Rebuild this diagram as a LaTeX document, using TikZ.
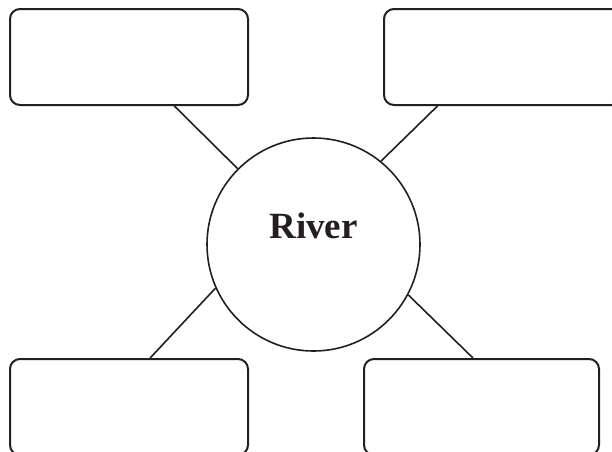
\documentclass[tikz,border=0pt]{standalone}
\usepackage{fontspec}
\setmainfont{Liberation Serif}
\usetikzlibrary{calc}
\definecolor{ink}{HTML}{231F20}
\begin{document}
\begin{tikzpicture}[x=1pt,y=-1pt,
  boxnode/.style={draw=ink,line width=2pt,rounded corners=10pt,minimum width=238pt,minimum height=96pt,inner sep=0pt,anchor=north west},
  hub/.style={draw=ink,line width=1.6pt,circle,minimum size=213pt,inner sep=0pt},
  link/.style={draw=ink,line width=1.6pt}]
\useasboundingbox (0,0) rectangle (612,451);
\clip (0,0) rectangle (612,451);
\node[boxnode] (tl) at (9,8) {};
\node[boxnode] (tr) at (383,8) {};
\node[boxnode] (bl) at (9,358) {};
\node[boxnode,minimum width=235pt] (br) at (363,358) {};
\node[hub,label={[font=\bfseries\fontsize{37}{40}\selectfont,text=ink,yshift=18.5pt]center:River}] (c) at (313.5,244.5) {};
\draw[link] ($(tl.south west)!0.689!(tl.south east)$) -- (c.135);
\draw[link] ($(tr.south west)!0.227!(tr.south east)$) -- (c.51);
\draw[link] ($(bl.north west)!0.588!(bl.north east)$) -- (c.204.5);
\draw[link] ($(br.north west)!0.464!(br.north east)$) -- (c.332);
\end{tikzpicture}
\end{document}
